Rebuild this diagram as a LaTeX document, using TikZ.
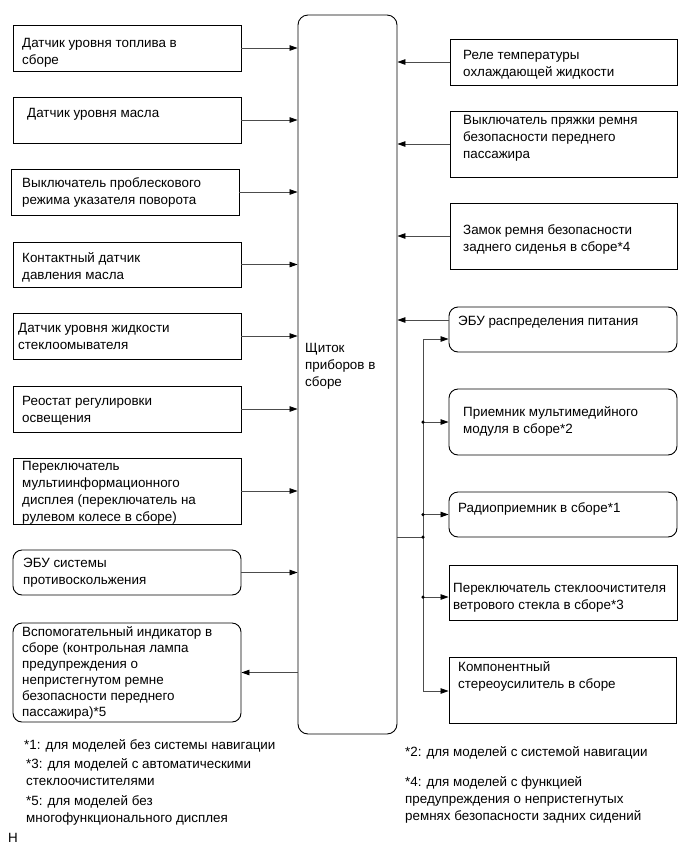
\documentclass[tikz,border=0pt]{standalone}
\usepackage{fontspec}
\setmainfont{Liberation Sans}
\usetikzlibrary{arrows.meta,fit,calc}
\newcommand{\tl}[1]{\parbox[t]{260pt}{\raggedright #1}}
\tikzset{
  box/.style={draw=black,line width=0.9pt,inner sep=0pt},
  rbox/.style={box,rounded corners=9pt},
  txt/.style={anchor=base west,inner sep=0pt,font=\fontsize{13.4}{17}\selectfont},
  conn/.style={draw=black!70,line width=0.8pt},
  arr/.style={conn,-{Triangle[length=8pt,width=5.5pt,color=black]}},
  jdot/.style={circle,fill=black,inner sep=0pt,minimum size=3.5pt}
}
\begin{document}
\begin{tikzpicture}[x=1pt,y=-1pt]
\useasboundingbox (0,0) rectangle (691,855);
% central unit
\node[box,rounded corners=10pt,fit={(298,15) (397,734)}] (C) {};
\node[txt] (t0) at (305,352) {\tl{Щиток\\приборов в\\сборе}};
% left boxes
\node[box,fit={(13,25) (241,71)}] (b1) {};
\node[box,fit={(13,97) (241,143)}] (b2) {};
\node[box,fit={(11,169) (239,215)}] (b3) {};
\node[box,fit={(13,242) (241,287)}] (b4) {};
\node[box,fit={(13,313) (241,359)}] (b5) {};
\node[box,fit={(13,386) (241,432)}] (b6) {};
\node[box,fit={(13,458) (241,524)}] (b7) {};
\node[rbox,fit={(13,550) (241,595)}] (b8) {};
\node[rbox,fit={(13,623) (241,722)}] (b9) {};
\node[txt] (t1) at (22,47) {\tl{Датчик уровня топлива в\\сборе}};
\node[txt] (t2) at (27,117) {\tl{Датчик уровня масла}};
\node[txt] (t3) at (22,187) {\tl{Выключатель проблескового\\режима указателя поворота}};
\node[txt] (t4) at (22,262) {\tl{Контактный датчик\\давления масла}};
\node[txt] (t5) at (18,332) {\tl{Датчик уровня жидкости\\стеклоомывателя}};
\node[txt] (t6) at (22,405) {\tl{Реостат регулировки\\освещения}};
\node[txt] (t7) at (22,470) {\tl{Переключатель\\мультиинформационного\\дисплея (переключатель на\\рулевом колесе в сборе)}};
\node[txt] (t8) at (23,567) {\tl{ЭБУ системы\\противоскольжения}};
\node[txt] (t9) at (22,636) {\fontsize{13.4}{16}\selectfont\tl{Вспомогательный индикатор в\\сборе (контрольная лампа\\предупреждения о\\непристегнутом ремне\\безопасности переднего\\пассажира)*5}};
% right boxes
\node[box,fit={(450,39) (677,85)}] (r1) {};
\node[box,fit={(450,111) (677,177)}] (r2) {};
\node[box,fit={(450,203) (677,269)}] (r3) {};
\node[rbox,fit={(449,307) (677,352)}] (r4) {};
\node[rbox,fit={(449,389) (677,455)}] (r5) {};
\node[rbox,fit={(449,492) (677,537)}] (r6) {};
\node[box,fit={(449,565) (677,620)}] (r7) {};
\node[box,fit={(449,657) (676,723)}] (r8) {};
\node[txt] (s1) at (463,59) {\tl{Реле температуры\\охлаждающей жидкости}};
\node[txt] (s2) at (463,124) {\tl{Выключатель пряжки ремня\\безопасности переднего\\пассажира}};
\node[txt] (s3) at (463,234) {\tl{Замок ремня безопасности\\заднего сиденья в сборе*4}};
\node[txt] (s4) at (458,325) {\tl{ЭБУ распределения питания}};
\node[txt] (s5) at (463,416) {\tl{Приемник мультимедийного\\модуля в сборе*2}};
\node[txt] (s6) at (458,512) {\tl{Радиоприемник в сборе*1}};
\node[txt] (s7) at (453,592) {\tl{Переключатель стеклоочистителя\\ветрового стекла в сборе*3}};
\node[txt] (s8) at (458,671) {\tl{Компонентный\\стереоусилитель в сборе}};
% footnotes
\node[txt] (f1) at (24,749) {\tl{*1: для моделей без системы навигации}};
\node[txt] (f3) at (26,768) {\tl{*3: для моделей с автоматическими\\стеклоочистителями}};
\node[txt] (f5) at (26,805) {\tl{*5: для моделей без\\многофункционального дисплея}};
\node[txt] (fh) at (8,842) {H};
\node[txt] (f2) at (405,756) {\tl{*2: для моделей с системой навигации}};
\node[txt] (f4) at (405,786) {\tl{*4: для моделей с функцией\\предупреждения о непристегнутых\\ремнях безопасности задних сидений}};
% left connectors
\foreach \b in {b1,b2,b3,b4,b5,b6,b7,b8}{
  \draw[arr] (\b.east) -- (\b.east -| C.west);
}
\draw[arr] (b9.east -| C.west) -- (b9.east);
% right connectors
\foreach \b in {r1,r2,r3}{
  \draw[arr] (\b.west) -- (\b.west -| C.east);
}
\coordinate (r4out) at ([yshift=9.5pt]r4.west);
\coordinate (r4in) at ([yshift=-9.5pt]r4.west);
\coordinate (r7in) at ([yshift=-4.5pt]r7.west);
\draw[arr] (r4out) -- (r4out -| C.east);
% bus
\coordinate (busT) at (423,339);
\coordinate (busB) at (423,691);
\coordinate (J) at (423,537);
\draw[conn] (J -| C.east) -- (J);
\draw[conn] (busT) -- (busB);
\draw[arr] (busT) -- (r4in);
\draw[arr] (busT |- r5.west) -- (r5.west);
\draw[arr] (busT |- r6.west) -- (r6.west);
\draw[arr] (busT |- r7in) -- (r7in);
\draw[arr] (busB) -- (busB -| r8.west);
\node[jdot] (d1) at (busT |- r5.west) {};
\node[jdot] (d2) at (busT |- r6.west) {};
\node[jdot] (d3) at (J) {};
\node[jdot] (d4) at (busT |- r7in) {};
\end{tikzpicture}
\end{document}
